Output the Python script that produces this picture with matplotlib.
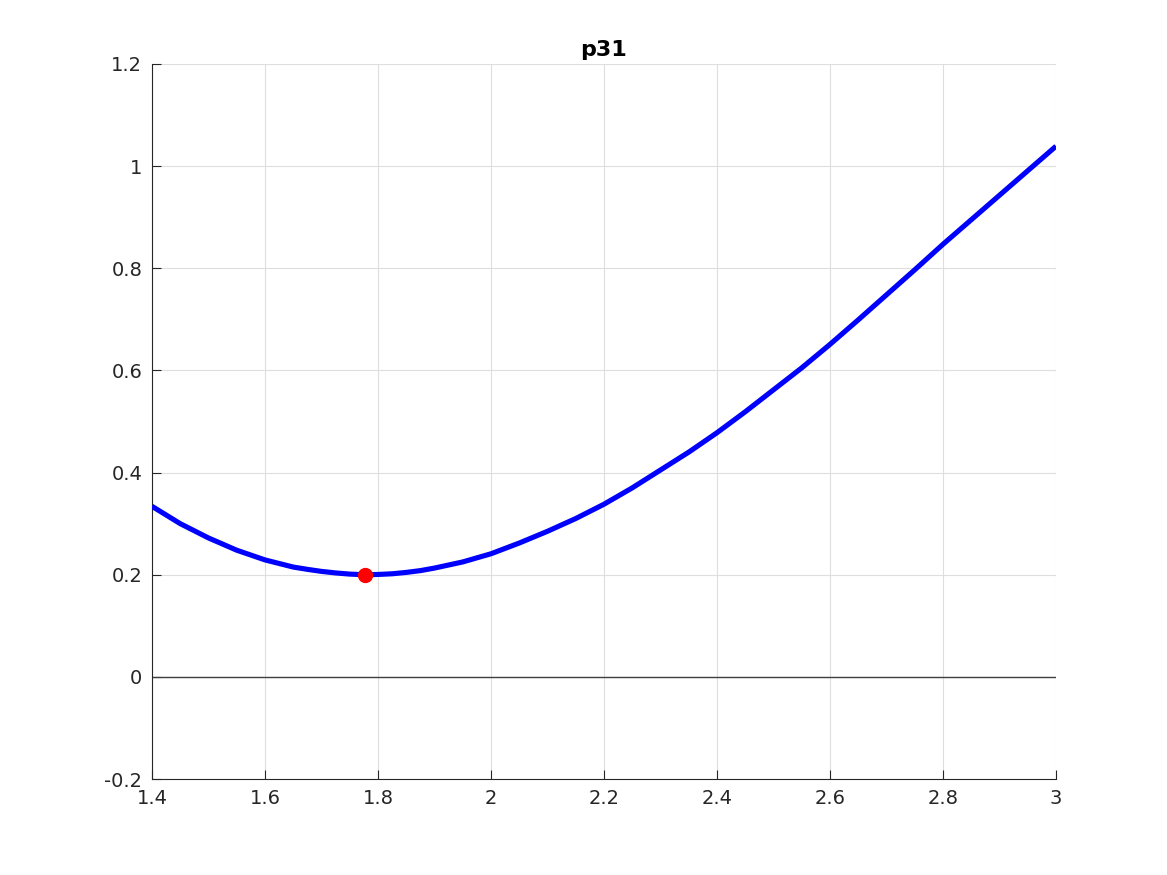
import numpy as np
from matplotlib import pyplot as plt

# values
x_vals = [1.4, 1.45, 1.5, 1.55, 1.6, 1.65, 1.675, 1.7, 1.725, 1.75, 1.775, 1.8, 1.825, 1.85, 1.875,
          1.9, 1.95, 2.0, 2.05, 2.1, 2.15, 2.2, 2.25, 2.3, 2.35, 2.4, 2.45, 2.5, 2.55,
          2.6, 2.65, 2.7, 2.75, 2.8, 2.85, 2.9, 2.95, 3.0]
y_vals = [0.334, 0.300, 0.272, 0.248, 0.229, 0.215, 0.2105, 0.2065, 0.2035, 0.2012, 0.2, 0.2005, 0.2018,
          0.2045, 0.208, 0.213, 0.225, 0.241, 0.262, 0.285, 0.310, 0.338, 0.370, 0.405, 0.440,
          0.478, 0.519, 0.562, 0.605, 0.651, 0.699, 0.748, 0.797, 0.847, 0.895, 0.943, 0.991, 1.039]

min_x = 1.777
min_y = 0.2

x_ticks = [1.4, 1.6, 1.8, 2.0, 2.2, 2.4, 2.6, 2.8, 3.0]
x_labels = ['1.4', '1.6', '1.8', '2', '2.2', '2.4', '2.6', '2.8', '3']
y_ticks = [-0.2, 0, 0.2, 0.4, 0.6, 0.8, 1.0, 1.2]
y_labels = ['-0.2', '0', '0.2', '0.4', '0.6', '0.8', '1', '1.2']

dark = '#262626'

fig = plt.figure(figsize=(11.67, 8.75), dpi=100)
ax = fig.add_axes([0.1302, 0.1097, 0.7747, 0.8172])

ax.plot(x_vals, y_vals, color='blue', linewidth=3.7, solid_capstyle='butt',
        solid_joinstyle='round', zorder=3)
ax.axhline(0, color='#404040', linewidth=1.0, zorder=2)
ax.plot(min_x, min_y, 'o', color='red', markersize=10, zorder=4)

ax.set_xlim(1.4, 3.0)
ax.set_ylim(-0.2, 1.2)
ax.set_xticks(x_ticks)
ax.set_xticklabels(x_labels)
ax.set_yticks(y_ticks)
ax.set_yticklabels(y_labels)

ax.grid(True, color='#dedede', linewidth=0.8)
ax.set_axisbelow(True)
ax.spines['top'].set_visible(False)
ax.spines['right'].set_visible(False)
for side in ['left', 'bottom']:
    ax.spines[side].set_color(dark)
    ax.spines[side].set_linewidth(0.8)
ax.tick_params(direction='in', length=6.5, width=0.8, color=dark, labelcolor=dark,
               labelsize=14, pad=7)

ax.set_title('p31', fontsize=16, fontweight='bold', pad=6)

fig.savefig('out.png', dpi=100)
